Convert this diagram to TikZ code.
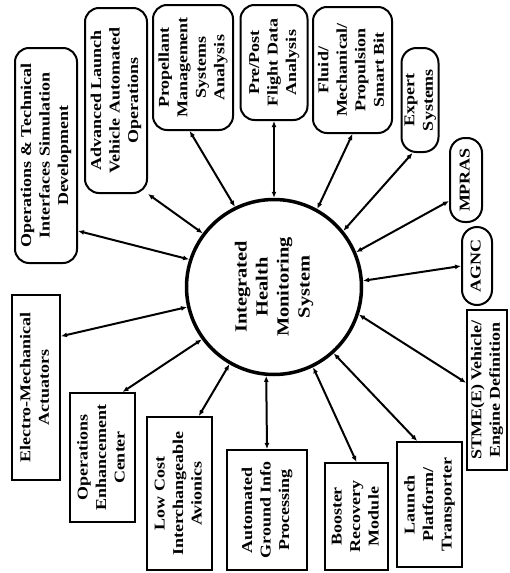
\documentclass[tikz,border=0pt]{standalone}
\usepackage{fontspec}
\setmainfont[FakeStretch=1.2]{Liberation Serif}
\usetikzlibrary{arrows.meta}
\newcommand{\vlines}[1]{\rotatebox{90}{\begin{tabular}{@{}c@{}}#1\end{tabular}}}

\begin{document}
\begin{tikzpicture}[x=1pt, y=-1pt,
  hub/.style={draw, circle, line width=3.5pt, minimum size=175pt, inner sep=0pt, font=\bfseries\fontsize{17}{21}\selectfont},
  sqbox/.style={draw, line width=2pt, inner sep=0pt, font=\bfseries\fontsize{15}{18.5}\selectfont},
  rbox/.style={sqbox, rounded corners=14pt},
  pill/.style={sqbox, rounded corners=15pt},
  link/.style={line width=2pt, {Latex[length=6pt,width=5pt]}-{Latex[length=6pt,width=5pt]}}
]
  \useasboundingbox (0,0) rectangle (509,573);

  \node[hub] (ihms) at (274,287) {\vlines{Integrated\\Health\\Monitoring\\System}};

  % rounded boxes along the top
  \node[rbox, minimum width=62pt, minimum height=215pt] (opstech) at (46,155.5) {\vlines{Operations \& Technical\\Interfaces Simulation\\Development}};
  \node[rbox, minimum width=62pt, minimum height=185pt] (advlaunch) at (116,100.5) {\vlines{Advanced Launch\\Vehicle Automated\\Operations}};
  \node[rbox, minimum width=80pt, minimum height=125pt] (propmgmt) at (193,67.5) {\vlines{Propellant\\Management\\Systems\\Analysis}};
  \node[rbox, minimum width=67pt, minimum height=115pt] (prepost) at (274,62.5) {\vlines{Pre/Post\\Flight Data\\Analysis}};
  \node[rbox, minimum width=79pt, minimum height=126pt] (fluid) at (352.5,70) {\vlines{Fluid/\\Mechanical/\\Propulsion\\Smart Bit}};
  \node[pill, minimum width=34pt, minimum height=104pt] (expert) at (420,100) {\vlines{Expert\\Systems}};
  \node[pill, minimum width=32pt, minimum height=84pt] (mpras) at (466,180) {\vlines{MPRAS}};
  \node[pill, minimum width=30pt, minimum height=78pt] (agnc) at (477,266) {\vlines{AGNC}};

  % square boxes along the bottom
  \node[sqbox, minimum width=40pt, minimum height=160pt] (stme) at (487,390) {\vlines{STME(E) Vehicle/\\Engine Definition}};
  \node[sqbox, minimum width=65pt, minimum height=125pt] (launch) at (429.5,504.5) {\vlines{Launch\\Platform/\\Transporter}};
  \node[sqbox, minimum width=63pt, minimum height=107pt] (booster) at (356.5,516.5) {\vlines{Booster\\Recovery\\Module}};
  \node[sqbox, minimum width=80pt, minimum height=120pt] (autoground) at (267,510) {\vlines{Automated\\Ground Info\\Processing}};
  \node[sqbox, minimum width=65pt, minimum height=153pt] (lowcost) at (179.5,493.5) {\vlines{Low Cost\\Interchangeable\\Avionics}};
  \node[sqbox, minimum width=65pt, minimum height=129pt] (opsenh) at (102.5,457.5) {\vlines{Operations\\Enhancement\\Center}};
  \node[sqbox, minimum width=48pt, minimum height=185pt] (electro) at (36,387.5) {\vlines{Electro-Mechanical\\Actuators}};

  % links to the hub
  \draw[link] (ihms.162) -- (opstech.-67);
  \draw[link] (ihms.143.5) -- (advlaunch.south east);
  \draw[link] (ihms.116) -- (propmgmt.-93);
  \draw[link] (ihms.north) -- (prepost.south);
  \draw[link] (ihms.61) -- (fluid.south);
  \draw[link] (ihms.39) -- (expert.-98);
  \draw[link] (ihms.23) -- (mpras.-129);
  \draw[link] (ihms.4) -- (agnc.west);
  \draw[link] (ihms.-18) -- (stme.161);
  \draw[link] (ihms.-48) -- (launch.101);
  \draw[link] (ihms.-64) -- (booster.north);
  \draw[link] (ihms.-95) -- (autoground.north);
  \draw[link] (ihms.-120) -- (lowcost.76);
  \draw[link] (ihms.-144.5) -- (opsenh.73);
  \draw[link] (ihms.-167) -- (electro.64);
\end{tikzpicture}
\end{document}
